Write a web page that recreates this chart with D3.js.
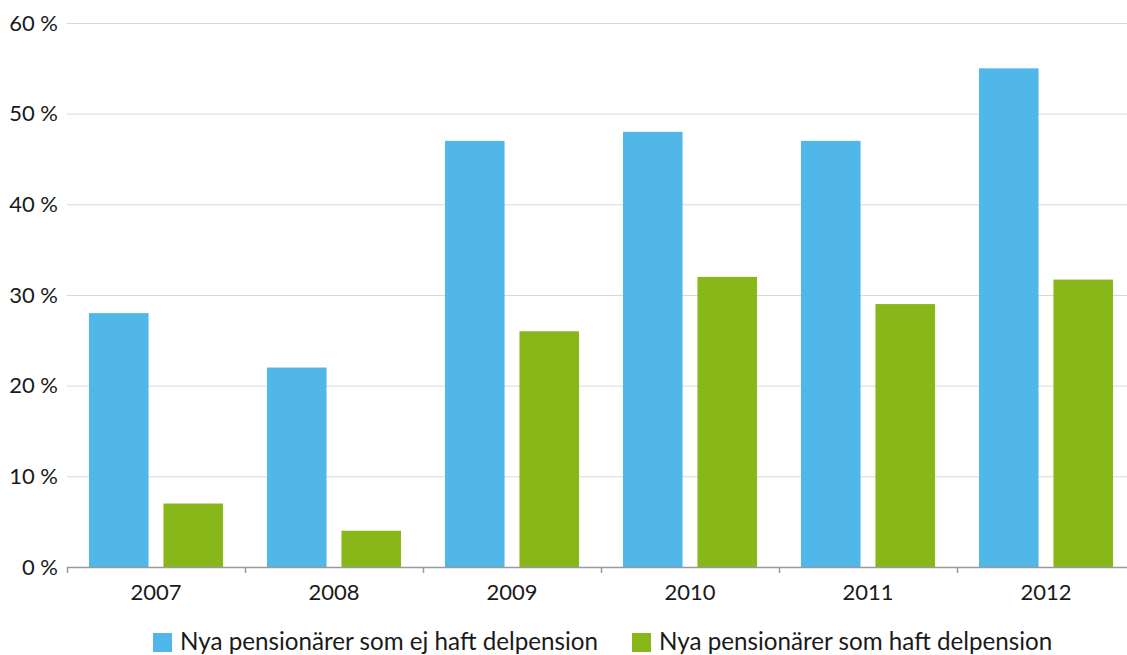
<!DOCTYPE html>
<html>
<head>
<meta charset="utf-8">
<script src="https://cdn.jsdelivr.net/npm/d3@7"></script>
<style>
  body { margin: 0; background: #fff; }
  svg { display: block; font-family: Lato, "Open Sans", sans-serif; }
</style>
</head>
<body>
<svg id="chart" width="1127" height="655"></svg>
<script>
// data
const years = ["2007", "2008", "2009", "2010", "2011", "2012"];
const seriesNames = ["Nya pensionärer som ej haft delpension", "Nya pensionärer som haft delpension"];
const ejDelpension = [28, 22, 47, 48, 47, 55];
const haftDelpension = [7, 4, 26, 32, 29, 31.7];
const yTicks = [0, 10, 20, 30, 40, 50, 60];
const colors = ["#50b7e8", "#88b71a"];

const svg = d3.select("#chart");
const width = 1127, height = 655;
const margin = {top: 23, right: -8, bottom: 88, left: 67};
const innerW = width - margin.left - margin.right;
const innerH = height - margin.top - margin.bottom;

const rows = years.map((y, i) => ({year: y, values: [ejDelpension[i], haftDelpension[i]]}));

const x0 = d3.scaleBand().domain(years).range([0, innerW]).padding(0);
const x1 = d3.scaleBand().domain([0, 1]).range([0, x0.bandwidth()])
    .paddingInner(0.2).paddingOuter(0.295);
const y = d3.scaleLinear().domain([0, 60]).range([innerH, 0]);

const g = svg.append("g").attr("transform", `translate(${margin.left},${margin.top})`);

// gridlines
g.append("g")
  .selectAll("line")
  .data(yTicks.slice(1))
  .enter()
  .append("line")
    .attr("x1", 0)
    .attr("x2", innerW)
    .attr("y1", d => y(d) + 0.5)
    .attr("y2", d => y(d) + 0.5)
    .attr("stroke", "#d9d9d9")
    .attr("stroke-width", 1);

// y labels
g.append("g")
  .selectAll("text")
  .data(yTicks)
  .enter()
  .append("text")
    .attr("x", -9)
    .attr("y", d => y(d))
    .attr("dy", "0.35em")
    .attr("text-anchor", "end")
    .attr("font-size", 22)
    .attr("fill", "#1a1a1a")
    .text(d => d + " %");

// bars
const groups = g.append("g")
  .selectAll("g")
  .data(rows)
  .enter()
  .append("g")
    .attr("transform", d => `translate(${x0(d.year)},0)`);

groups.selectAll("rect")
  .data(d => d.values.map((v, i) => ({v: v, i: i})))
  .enter()
  .append("rect")
    .attr("x", d => x1(d.i))
    .attr("width", x1.bandwidth())
    .attr("y", d => y(d.v))
    .attr("height", d => y(0) - y(d.v))
    .attr("fill", d => colors[d.i]);

// x axis
const xAxis = g.append("g")
  .attr("transform", `translate(0,${innerH})`);
xAxis.append("line")
  .attr("x1", 0).attr("x2", innerW)
  .attr("y1", 0.5).attr("y2", 0.5)
  .attr("stroke", "#9a9a9a").attr("stroke-width", 1.5);
xAxis.selectAll(".tick")
  .data(years)
  .enter()
  .append("line")
    .attr("class", "tick")
    .attr("x1", d => x0(d) + 0.5)
    .attr("x2", d => x0(d) + 0.5)
    .attr("y1", 0)
    .attr("y2", 6)
    .attr("stroke", "#9a9a9a").attr("stroke-width", 1.5);
xAxis.selectAll("text")
  .data(years)
  .enter()
  .append("text")
    .attr("x", d => x0(d) + x0.bandwidth() / 2)
    .attr("y", 33)
    .attr("text-anchor", "middle")
    .attr("font-size", 22)
    .attr("fill", "#1a1a1a")
    .text(d => d);

// legend
const legendX = [153, 632];
const legend = svg.append("g")
  .selectAll("g")
  .data(seriesNames)
  .enter()
  .append("g")
    .attr("transform", (d, i) => `translate(${legendX[i]},633)`);
legend.append("rect")
  .attr("width", 19).attr("height", 19)
  .attr("fill", (d, i) => colors[i]);
legend.append("text")
  .attr("x", 27).attr("y", 17)
  .attr("font-size", 24.2)
  .attr("fill", "#1a1a1a")
  .text(d => d);
</script>
</body>
</html>
